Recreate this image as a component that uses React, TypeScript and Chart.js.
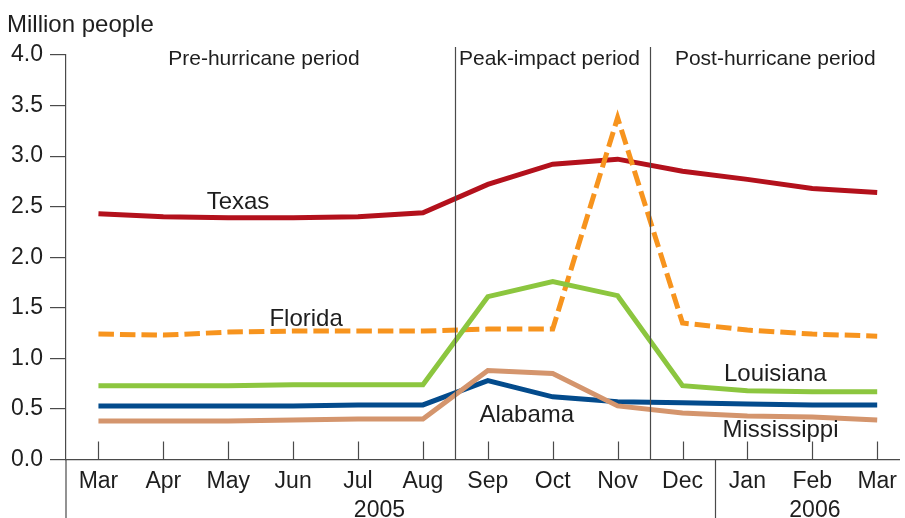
import React, { useEffect, useRef } from "react";
import { Chart, registerables } from "chart.js";

Chart.register(...registerables);

const MONTHS = ["Mar", "Apr", "May", "Jun", "Jul", "Aug", "Sep", "Oct", "Nov", "Dec", "Jan", "Feb", "Mar"];
const TEXAS = [2.43, 2.40, 2.39, 2.39, 2.40, 2.44, 2.72, 2.92, 2.97, 2.85, 2.77, 2.68, 2.64];
const FLORIDA = [1.24, 1.23, 1.26, 1.27, 1.27, 1.27, 1.29, 1.29, 3.38, 1.35, 1.28, 1.24, 1.22];
const LOUISIANA = [0.73, 0.73, 0.73, 0.74, 0.74, 0.74, 1.61, 1.76, 1.62, 0.73, 0.68, 0.67, 0.67];
const ALABAMA = [0.53, 0.53, 0.53, 0.53, 0.54, 0.54, 0.78, 0.62, 0.57, 0.56, 0.55, 0.54, 0.54];
const MISSISSIPPI = [0.38, 0.38, 0.38, 0.39, 0.40, 0.40, 0.88, 0.85, 0.53, 0.46, 0.43, 0.42, 0.39];
const Y_TICKS = [0, 0.5, 1, 1.5, 2, 2.5, 3, 3.5, 4];
const PERIODS = [
  { text: "Pre-hurricane period", x: 2.55 },
  { text: "Peak-impact period", x: 6.95 },
  { text: "Post-hurricane period", x: 10.43 },
];
const PERIOD_DIVIDERS = [5.5, 8.5];
const YEAR_DIVIDER = 9.5;
const YEARS = [
  { text: "2005", x: 4.33 },
  { text: "2006", x: 11.04 },
];
const STATE_LABELS = [
  { text: "Texas", x: 2.15, y: 2.48 },
  { text: "Florida", x: 3.2, y: 1.32 },
  { text: "Louisiana", x: 10.43, y: 0.777 },
  { text: "Alabama", x: 6.6, y: 0.371 },
  { text: "Mississippi", x: 10.51, y: 0.218 },
];

const FONT = '"Liberation Sans", Arial, Helvetica, sans-serif';
const AXIS_COLOR = "#4a4a4a";
const TEXT_COLOR = "#1e1e1e";

const toXY = (arr: number[]) => arr.map((v, i) => ({ x: i, y: v }));

const decorPlugin = {
  id: "decor",
  afterDraw(chart: any) {
    const { ctx, chartArea, scales } = chart;
    const xs = scales.x;
    const ys = scales.y;
    ctx.save();
    ctx.strokeStyle = AXIS_COLOR;
    ctx.lineWidth = 1.2;
    ctx.beginPath();
    ctx.moveTo(chartArea.left, chartArea.bottom);
    ctx.lineTo(chartArea.left, chart.height);
    ctx.stroke();
    PERIOD_DIVIDERS.forEach((v) => {
      const px = Math.round(xs.getPixelForValue(v)) + 0.5;
      ctx.beginPath();
      ctx.moveTo(px, 47);
      ctx.lineTo(px, chartArea.bottom);
      ctx.stroke();
    });
    const yd = Math.round(xs.getPixelForValue(YEAR_DIVIDER)) + 0.5;
    ctx.beginPath();
    ctx.moveTo(yd, chartArea.bottom);
    ctx.lineTo(yd, chart.height);
    ctx.stroke();
    MONTHS.forEach((_, i) => {
      const px = Math.round(xs.getPixelForValue(i)) + 0.5;
      ctx.beginPath();
      ctx.moveTo(px, chartArea.bottom);
      ctx.lineTo(px, chartArea.bottom - 18);
      ctx.stroke();
    });
    ctx.fillStyle = TEXT_COLOR;
    ctx.textBaseline = "alphabetic";
    ctx.textAlign = "left";
    ctx.font = `24px ${FONT}`;
    ctx.fillText("Million people", 7, 32);
    ctx.textAlign = "center";
    ctx.font = `21px ${FONT}`;
    PERIODS.forEach((p) => ctx.fillText(p.text, xs.getPixelForValue(p.x), 64.5));
    ctx.font = `23px ${FONT}`;
    YEARS.forEach((p) => ctx.fillText(p.text, xs.getPixelForValue(p.x), 517));
    ctx.font = `24px ${FONT}`;
    STATE_LABELS.forEach((s) => ctx.fillText(s.text, xs.getPixelForValue(s.x), ys.getPixelForValue(s.y)));
    ctx.restore();
  },
};

export default function App() {
  const ref = useRef<HTMLCanvasElement>(null);
  useEffect(() => {
    if (!ref.current) return;
    const mk = (label: string, data: number[], color: string, dash: number[] = []) => ({
      label,
      data: toXY(data),
      borderColor: color,
      backgroundColor: color,
      borderWidth: 5,
      borderDash: dash,
      pointRadius: 0,
      tension: 0,
      fill: false,
      borderJoinStyle: "miter" as const,
    });
    const chart = new Chart(ref.current, {
      type: "line",
      data: {
        datasets: [
          mk("Mississippi", MISSISSIPPI, "#d4956d"),
          mk("Alabama", ALABAMA, "#034b8c"),
          mk("Louisiana", LOUISIANA, "#8cc63f"),
          mk("Florida", FLORIDA, "#f7941e", [15.5, 6]),
          mk("Texas", TEXAS, "#b3111c"),
        ],
      },
      options: {
        animation: false,
        responsive: false,
        maintainAspectRatio: false,
        layout: { padding: { left: 0, top: 55, right: 0, bottom: 0 } },
        plugins: { legend: { display: false }, tooltip: { enabled: false }, title: { display: false } },
        scales: {
          x: {
            type: "linear",
            min: -0.5,
            max: 12.34,
            afterFit: (s: any) => { s.height = 58.5; },
            afterBuildTicks: (s: any) => { s.ticks = MONTHS.map((_, i) => ({ value: i })); },
            grid: { display: false, drawTicks: false },
            border: { display: true, color: AXIS_COLOR, width: 1.2 },
            ticks: {
              autoSkip: false,
              maxRotation: 0,
              padding: 8,
              color: TEXT_COLOR,
              font: { family: FONT, size: 23 },
              callback: (v: any) => MONTHS[Math.round(Number(v))] ?? "",
            },
          },
          y: {
            type: "linear",
            min: 0,
            max: 4,
            afterFit: (s: any) => { s.width = 66; },
            afterBuildTicks: (s: any) => { s.ticks = Y_TICKS.map((v) => ({ value: v })); },
            grid: { drawOnChartArea: false, drawTicks: true, tickLength: 16, color: AXIS_COLOR, lineWidth: 1.2 },
            border: { display: true, color: AXIS_COLOR, width: 1.2 },
            ticks: {
              padding: 7,
              color: TEXT_COLOR,
              font: { family: FONT, size: 23 },
              callback: (v: any) => Number(v).toFixed(1),
            },
          },
        },
      },
      plugins: [decorPlugin],
    });
    return () => chart.destroy();
  }, []);
  return (
    <div style={{ position: "fixed", left: 0, top: 0, width: 905, height: 518, background: "#fff" }}>
      <canvas ref={ref} width={905} height={518} style={{ display: "block", width: 905, height: 518 }} />
    </div>
  );
}
